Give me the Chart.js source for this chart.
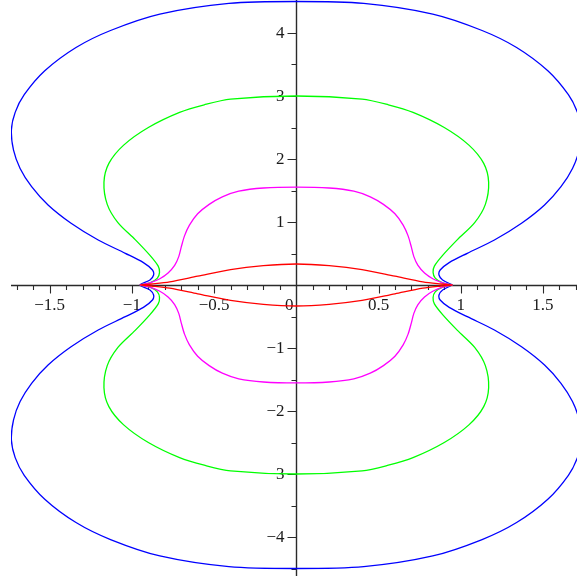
<!DOCTYPE html>
<html>
<head>
<meta charset="utf-8">
<script src="https://cdn.jsdelivr.net/npm/chart.js@4/dist/chart.umd.min.js"></script>
<style>
  html, body { margin: 0; padding: 0; background: #ffffff; }
  canvas { display: block; }
</style>
</head>
<body>
<canvas id="plot" width="577" height="576"></canvas>
<script>
// Each closed curve is given by its upper-right quarter, running from the top
// of the curve on the y-axis round to its tip on the x-axis; the other three
// quarters are the reflections of it in the two axes.
const blueQuarter = [
  [0, 4.50], [0.41, 4.47], [0.83, 4.30], [1.13, 4.04], [1.34, 3.77],
  [1.53, 3.40], [1.655, 3.02], [1.71, 2.74], [1.733, 2.46], [1.72, 2.14],
  [1.68, 1.85], [1.61, 1.56], [1.51, 1.27], [1.37, 0.98], [1.205, 0.714],
  [1.04, 0.503], [0.93, 0.355], [0.875, 0.238], [0.868, 0.159], [0.89, 0.079],
  [0.95, 0]
];
const greenQuarter = [
  [0, 3.00], [0.40, 2.95], [0.56, 2.86], [0.71, 2.74], [0.90, 2.50],
  [1.05, 2.22], [1.14, 1.93], [1.17, 1.63], [1.15, 1.28], [1.085, 0.99],
  [0.98, 0.72], [0.89, 0.47], [0.84, 0.30], [0.832, 0.20], [0.845, 0.11],
  [0.89, 0.035], [0.95, 0]
];
const magentaQuarter = [
  [0, 1.555], [0.20, 1.54], [0.35, 1.49], [0.45, 1.40], [0.53, 1.28],
  [0.60, 1.13], [0.65, 0.95], [0.68, 0.78], [0.70, 0.60], [0.715, 0.45],
  [0.74, 0.31], [0.78, 0.19], [0.83, 0.10], [0.89, 0.035], [0.95, 0]
];
const redQuarter = [
  [0, 0.333], [0.20, 0.307], [0.40, 0.245], [0.60, 0.14], [0.77, 0.05],
  [0.88, 0.016], [0.95, 0]
];

const xTickValues = [-1.5, -1, -0.5, 0, 0.5, 1, 1.5];
const xTickLabels = ['\u22121.5', '\u22121', '\u22120.5', '0', '0.5', '1', '1.5'];
const yTickValues = [4, 3, 2, 1, -1, -2, -3, -4];
const yTickLabels = ['4', '3', '2', '1', '\u22121', '\u22122', '\u22123', '\u22124'];

const X_MIN = -1.7354, X_MAX = 1.7074;
const Y_MIN = -4.619, Y_MAX = 4.5238;

// Build the whole loop: right tip -> bottom -> left tip -> top -> right tip.
function fullLoop(q) {
  const pts = [];
  q.slice().reverse().forEach(([x, y]) => pts.push({ x: x, y: -y }));
  q.slice(1).forEach(([x, y]) => pts.push({ x: -x, y: -y }));
  q.slice(0, -1).reverse().forEach(([x, y]) => pts.push({ x: -x, y: y }));
  q.slice(1).forEach(([x, y]) => pts.push({ x: x, y: y }));
  return pts;
}

function curve(q, color) {
  return {
    data: fullLoop(q),
    showLine: true,
    borderColor: color,
    borderWidth: 1.3,
    pointRadius: 0,
    fill: false,
    tension: 0.3
  };
}

// Axes through the origin with minor and major ticks, Maple style.
const originAxes = {
  id: 'originAxes',
  beforeDatasetsDraw(chart) {
    const { ctx, chartArea, scales } = chart;
    const xs = scales.x, ys = scales.y;
    const x0 = Math.round(xs.getPixelForValue(0)) + 0.5;
    const y0 = Math.round(ys.getPixelForValue(0)) + 0.5;
    ctx.save();
    ctx.strokeStyle = '#2a2a2a';
    ctx.lineWidth = 1.4;
    ctx.beginPath();
    ctx.moveTo(chartArea.left, y0); ctx.lineTo(chartArea.right, y0);
    ctx.moveTo(x0, chartArea.top); ctx.lineTo(x0, chartArea.bottom);
    ctx.stroke();

    ctx.lineWidth = 1.1;
    ctx.beginPath();
    for (let i = -17; i <= 17; i++) {
      if (i === 0) continue;
      const px = Math.round(xs.getPixelForValue(i / 10)) + 0.5;
      const len = (i % 5 === 0) ? 8 : 4.5;
      ctx.moveTo(px, y0); ctx.lineTo(px, y0 + len);
    }
    for (let j = -9; j <= 9; j++) {
      if (j === 0) continue;
      const py = Math.round(ys.getPixelForValue(j / 2)) + 0.5;
      const len = (j % 2 === 0) ? 9 : 5;
      ctx.moveTo(x0, py); ctx.lineTo(x0 - len, py);
    }
    ctx.stroke();

    ctx.fillStyle = '#1a1a1a';
    ctx.font = '17px "Liberation Serif", "Times New Roman", serif';
    ctx.textBaseline = 'middle';
    ctx.textAlign = 'center';
    xTickValues.forEach((v, k) => {
      let px = xs.getPixelForValue(v);
      if (v === 0) px -= 7;
      ctx.fillText(xTickLabels[k], px, y0 + 20);
    });
    ctx.textAlign = 'right';
    yTickValues.forEach((v, k) => {
      ctx.fillText(yTickLabels[k], x0 - 12, ys.getPixelForValue(v) + 0.5);
    });
    ctx.restore();
  }
};

new Chart(document.getElementById('plot'), {
  type: 'scatter',
  data: {
    datasets: [
      curve(redQuarter, '#ff0000'),
      curve(magentaQuarter, '#ff00ff'),
      curve(greenQuarter, '#00ff00'),
      curve(blueQuarter, '#0000ff')
    ]
  },
  options: {
    responsive: false,
    animation: false,
    layout: { padding: { left: 11, right: 0, top: 0, bottom: 0 } },
    plugins: { legend: { display: false }, tooltip: { enabled: false } },
    scales: {
      x: { type: 'linear', min: X_MIN, max: X_MAX, display: false },
      y: { type: 'linear', min: Y_MIN, max: Y_MAX, display: false }
    }
  },
  plugins: [originAxes]
});
</script>
</body>
</html>
